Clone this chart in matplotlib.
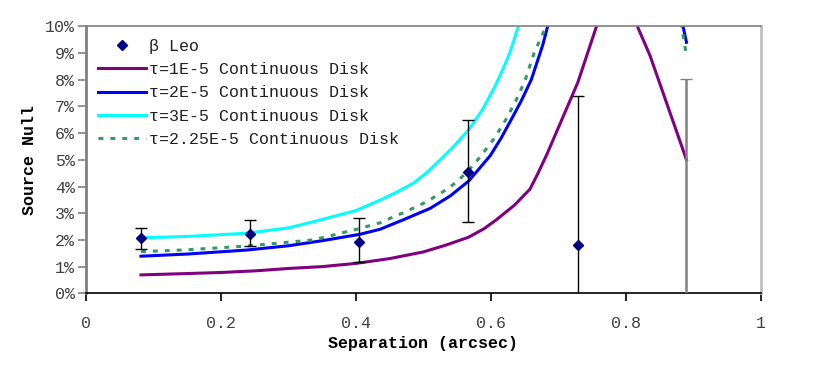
import matplotlib
matplotlib.use("Agg")
import matplotlib.pyplot as plt
from matplotlib.ticker import FuncFormatter

# ---- data ----
sep_obs = [0.0815, 0.243, 0.404, 0.566, 0.729, 0.890]
null_obs = [2.08, 2.23, 1.94, 4.56, 1.80, -1.5]
err_lo = [0.41, 0.46, 0.77, 1.89, 3.0, 3.0]
err_hi = [0.36, 0.51, 0.88, 1.92, 5.59, 9.54]

x_t1 = [0.0815, 0.15, 0.2, 0.25, 0.3, 0.35, 0.4, 0.45, 0.5, 0.534, 0.567,
        0.59, 0.608, 0.635, 0.658, 0.67, 0.683, 0.703, 0.729, 0.783, 0.836, 0.890]
y_t1 = [0.69, 0.74, 0.78, 0.84, 0.93, 1.0, 1.12, 1.3, 1.55, 1.81, 2.1,
        2.42, 2.75, 3.3, 3.9, 4.5, 5.2, 6.37, 7.9, 12.0, 8.9, 5.0]

x_t2 = [0.0815, 0.15, 0.238, 0.3, 0.35, 0.406, 0.436, 0.47, 0.51, 0.54,
        0.567, 0.599, 0.615, 0.628, 0.645, 0.660, 0.677, 0.686, 0.70, 0.729,
        0.783, 0.836, 0.890]
y_t2 = [1.39, 1.47, 1.62, 1.78, 1.97, 2.21, 2.40, 2.75, 3.18, 3.65,
        4.2, 5.15, 5.8, 6.4, 7.2, 8.0, 9.3, 10.17, 11.5, 14.0,
        22.0, 15.7, 9.4]

x_t3 = [0.0815, 0.15, 0.238, 0.3, 0.337, 0.4, 0.436, 0.46, 0.485, 0.505,
        0.525, 0.545, 0.567, 0.587, 0.606, 0.618, 0.628, 0.643, 0.674, 0.729,
        0.783, 0.836, 0.890]
y_t3 = [2.08, 2.13, 2.25, 2.45, 2.68, 3.1, 3.49, 3.78, 4.12, 4.52,
        5.0, 5.5, 6.12, 6.85, 7.74, 8.4, 8.99, 10.17, 14.0, 22.0,
        35.0, 28.0, 16.0]

x_t225 = [0.0815, 0.15, 0.238, 0.337, 0.406, 0.436, 0.451, 0.475, 0.5, 0.525,
          0.549, 0.567, 0.584, 0.605, 0.622, 0.637, 0.651, 0.664, 0.674, 0.683,
          0.729, 0.783, 0.836, 0.890]
y_t225 = [1.56, 1.63, 1.77, 2.0, 2.43, 2.64, 2.81, 3.07, 3.37, 3.73,
          4.16, 4.6, 5.1, 5.8, 6.49, 7.2, 7.99, 8.99, 9.55, 10.05,
          16.0, 25.0, 17.0, 8.9]

labels = ["β Leo", "τ=1E-5 Continuous Disk", "τ=2E-5 Continuous Disk",
          "τ=3E-5 Continuous Disk", "τ=2.25E-5 Continuous Disk"]
x_ticks = [0, 0.2, 0.4, 0.6, 0.8, 1]
y_ticks = list(range(0, 11))

FONT = "Liberation Mono"
plt.rcParams['font.family'] = [FONT, 'DejaVu Sans']

fig = plt.figure(figsize=(8.3, 3.65), dpi=100)
ax = fig.add_axes([0.1036, 0.1964, 0.8129, 0.7316])

l1, = ax.plot(x_t1, y_t1, color="#800080", lw=2.2)
l2, = ax.plot(x_t2, y_t2, color="#0000FF", lw=2.2)
l3, = ax.plot(x_t3, y_t3, color="#00FFFF", lw=2.2)
l4, = ax.plot(x_t225, y_t225, color="#339966", lw=2.2, linestyle=(0, (1.6, 2.3)))

# error bars
for i in range(len(sep_obs)):
    col = "black" if i < len(sep_obs) - 1 else "#808080"
    lw = 1.0 if i < len(sep_obs) - 1 else 1.8
    ax.errorbar([sep_obs[i]], [null_obs[i]], yerr=[[err_lo[i]], [err_hi[i]]],
                fmt='none', ecolor=col, elinewidth=lw, capsize=4.5, capthick=1.0,
                zorder=4)
pts, = ax.plot(sep_obs, null_obs, linestyle='none', marker='D', markersize=5.5,
               color="#000080", zorder=5)

ax.set_xlim(0, 1)
ax.set_ylim(0, 10)
ax.set_xticks(x_ticks)
ax.set_yticks(y_ticks)
ax.xaxis.set_major_formatter(FuncFormatter(lambda v, p: "0" if v == 0 else ("1" if v == 1 else f"{v:.1f}")))
ax.yaxis.set_major_formatter(FuncFormatter(lambda v, p: f"{int(v)}%"))

for lab in ax.get_xticklabels() + ax.get_yticklabels():
    lab.set_fontfamily(FONT)
    lab.set_fontsize(12)
    lab.set_color("#404040")

ax.tick_params(axis='x', direction='out', length=6, width=1.2, color='black', pad=10)
ax.tick_params(axis='y', direction='out', length=6, width=1.2, color='#808080', pad=2)

ax.spines['left'].set_color('#808080')
ax.spines['left'].set_linewidth(2)
ax.spines['top'].set_color('#808080')
ax.spines['top'].set_linewidth(1.2)
ax.spines['right'].set_color('#c0c0c0')
ax.spines['right'].set_linewidth(2)
ax.spines['bottom'].set_color('black')
ax.spines['bottom'].set_linewidth(1.2)

ax.set_xlabel("Separation (arcsec)", fontfamily=FONT, fontsize=12,
              fontweight='bold', labelpad=4)
ax.set_ylabel("Source Null", fontfamily=FONT, fontsize=12,
              fontweight='bold', labelpad=6)

leg = ax.legend([pts, l1, l2, l3, l4], labels, loc='upper left',
                bbox_to_anchor=(0.018, 0.952), frameon=False, borderpad=0,
                borderaxespad=0, handlelength=2.9, handletextpad=0.15,
                labelspacing=0.49, numpoints=1,
                prop={'family': FONT, 'size': 12})
for t in leg.get_texts():
    t.set_color("#202020")

fig.savefig("out.png", dpi=100)
